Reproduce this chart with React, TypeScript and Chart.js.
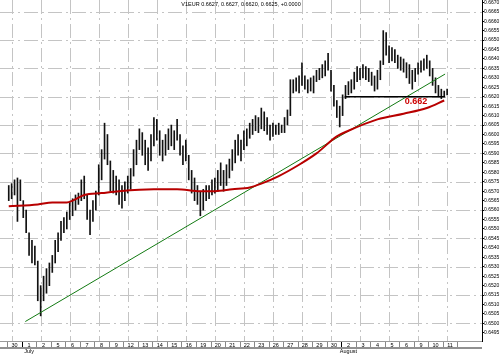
import React, { useEffect, useRef } from "react";
import { Chart, registerables } from "chart.js";

Chart.register(...registerables);

const TITLE = "V1EUR 0.6627, 0.6627, 0.6620, 0.6625, +0.0000";

const DAY_LABELS = [
  "30", "1", "2", "5", "6", "7", "8", "9", "12", "13", "14", "15", "16", "19", "20", "21",
  "22", "23", "26", "27", "28", "29", "30", "2", "3", "4", "5", "6", "9", "10", "11",
];
const MONTH_LABELS: Record<number, string> = { 1: "July", 23: "August" };
const BARS_PER_DAY = 5;

const BAR_HIGHS = [
  0.6573, 0.6574, 0.6576, 0.6577, 0.6576, 0.6565, 0.6560, 0.6548, 0.6544, 0.6541,
  0.6533, 0.6520, 0.6525, 0.6529, 0.6532, 0.6536, 0.6544, 0.6548, 0.6554, 0.6556,
  0.6559, 0.6564, 0.6566, 0.6568, 0.6569, 0.6576, 0.6578, 0.6568, 0.6560, 0.6565,
  0.6570, 0.6584, 0.6592, 0.6606, 0.6600, 0.6586, 0.6581, 0.6578, 0.6576, 0.6573,
  0.6575, 0.6578, 0.6582, 0.6592, 0.6597, 0.6603, 0.6601, 0.6597, 0.6593, 0.6600,
  0.6609, 0.6608, 0.6602, 0.6597, 0.6600, 0.6603, 0.6605, 0.6602, 0.6608, 0.6600,
  0.6594, 0.6597, 0.6589, 0.6581, 0.6577, 0.6573, 0.6570, 0.6571, 0.6573, 0.6573,
  0.6576, 0.6577, 0.6581, 0.6585, 0.6581, 0.6584, 0.6587, 0.6592, 0.6597, 0.6600,
  0.6597, 0.6602, 0.6603, 0.6606, 0.6608, 0.6610, 0.6609, 0.6614, 0.6612, 0.6609,
  0.6605, 0.6606, 0.6605, 0.6606, 0.6605, 0.6609, 0.6613, 0.6629, 0.6629, 0.6630,
  0.6631, 0.6638, 0.6631, 0.6629, 0.6630, 0.6631, 0.6634, 0.6635, 0.6637, 0.6639,
  0.6643, 0.6634, 0.6626, 0.6618, 0.6615, 0.6621, 0.6626, 0.6628, 0.6629, 0.6633,
  0.6636, 0.6635, 0.6637, 0.6636, 0.6635, 0.6633, 0.6631, 0.6634, 0.6639, 0.6655,
  0.6654, 0.6647, 0.6646, 0.6645, 0.6642, 0.6641, 0.6640, 0.6638, 0.6637, 0.6634,
  0.6635, 0.6638, 0.6639, 0.6640, 0.6642, 0.6639, 0.6635, 0.6630, 0.6626, 0.6624,
  0.6623, 0.6624,
];

const BAR_LOWS = [
  0.6565, 0.6566, 0.6568, 0.6554, 0.6565, 0.6556, 0.6548, 0.6536, 0.6532, 0.6531,
  0.6512, 0.6504, 0.6512, 0.6516, 0.6520, 0.6527, 0.6532, 0.6538, 0.6544, 0.6548,
  0.6550, 0.6555, 0.6557, 0.6560, 0.6563, 0.6565, 0.6566, 0.6555, 0.6547, 0.6554,
  0.6560, 0.6568, 0.6576, 0.6587, 0.6584, 0.6570, 0.6569, 0.6568, 0.6563, 0.6561,
  0.6565, 0.6569, 0.6571, 0.6578, 0.6584, 0.6592, 0.6589, 0.6584, 0.6581, 0.6586,
  0.6594, 0.6597, 0.6589, 0.6586, 0.6589, 0.6592, 0.6594, 0.6592, 0.6597, 0.6589,
  0.6584, 0.6586, 0.6576, 0.6569, 0.6565, 0.6563, 0.6557, 0.6560, 0.6565, 0.6566,
  0.6568, 0.6569, 0.6570, 0.6573, 0.6570, 0.6573, 0.6577, 0.6581, 0.6585, 0.6589,
  0.6586, 0.6592, 0.6594, 0.6598, 0.6600, 0.6602, 0.6601, 0.6603, 0.6602, 0.6600,
  0.6597, 0.6599, 0.6600, 0.6600, 0.6601, 0.6601, 0.6605, 0.6610, 0.6622, 0.6623,
  0.6622, 0.6626, 0.6624, 0.6622, 0.6623, 0.6622, 0.6628, 0.6629, 0.6630, 0.6631,
  0.6634, 0.6623, 0.6615, 0.6609, 0.6604, 0.6610, 0.6619, 0.6621, 0.6622, 0.6624,
  0.6628, 0.6629, 0.6630, 0.6629, 0.6628, 0.6626, 0.6623, 0.6624, 0.6629, 0.6637,
  0.6642, 0.6638, 0.6639, 0.6638, 0.6635, 0.6634, 0.6633, 0.6630, 0.6627, 0.6624,
  0.6628, 0.6632, 0.6633, 0.6634, 0.6635, 0.6631, 0.6626, 0.6622, 0.6620, 0.6619,
  0.6620, 0.6621,
];

// moving average (red) read at selected bar positions
const MA_BARS = [0, 10, 15, 20, 22, 26, 32, 38, 50, 58, 66, 71, 77, 83, 87, 93, 100, 106, 113, 117, 127, 136, 144, 150];
const MA_VALUES = [
  0.6562, 0.6563, 0.6564, 0.6564, 0.6565, 0.6568, 0.6569, 0.6570, 0.6571, 0.6571, 0.6570, 0.6570,
  0.6571, 0.6572, 0.6574, 0.6578, 0.6584, 0.6590, 0.6599, 0.6602, 0.6608, 0.6611, 0.6614, 0.6618,
];

// trend line (green)
const TREND_BARS = [5.7, 150.3];
const TREND_VALUES = [0.6501, 0.6632];

// horizontal support (black)
const SUPPORT_BARS = [115.7, 150.3];
const SUPPORT_VALUE = 0.662;

const NOTE_TEXT = "0.662";
const NOTE_BAR = 140.3;
const NOTE_VALUE = 0.66176;

const Y_MIN = 0.64907;
const Y_MAX = 0.66712;
const Y_STEP = 0.0005;
const Y_GRID_REF = 0.6665;
const X_MIN = -0.333;
const X_MAX = 160.333;
const V_GRID_START = 1;
const V_GRID_EVERY = 10;

const FONT = "'Liberation Sans', Arial, sans-serif";

const decorPlugin = {
  id: "decor",
  beforeDatasetsDraw(chart: any) {
    const { ctx, chartArea, scales } = chart;
    const xs = scales.x;
    const ys = scales.y;
    ctx.save();
    ctx.strokeStyle = "#c4c4c4";
    ctx.lineWidth = 1;
    ctx.setLineDash([14, 4, 2, 4]);
    for (let k = 0; k <= 40; k += 3) {
      const v = Y_GRID_REF - k * Y_STEP;
      if (v < Y_MIN) break;
      const y = Math.round(ys.getPixelForValue(v)) + 0.5;
      ctx.beginPath();
      ctx.moveTo(chartArea.left, y);
      ctx.lineTo(chartArea.right, y);
      ctx.stroke();
    }
    for (let b = V_GRID_START; b < X_MAX; b += V_GRID_EVERY) {
      const x = Math.round(xs.getPixelForValue(b)) + 0.5;
      ctx.beginPath();
      ctx.moveTo(x, chartArea.top);
      ctx.lineTo(x, chartArea.bottom);
      ctx.stroke();
    }
    ctx.restore();
  },
  afterDraw(chart: any) {
    const { ctx, chartArea, scales } = chart;
    const xs = scales.x;
    const ys = scales.y;
    ctx.save();
    ctx.fillStyle = "#000";
    ctx.font = `5.5px ${FONT}`;
    ctx.textAlign = "center";
    ctx.textBaseline = "middle";
    ctx.fillText(TITLE, (chartArea.left + chartArea.right) / 2, chartArea.top + 4.5);
    ctx.fillStyle = "#cc0000";
    ctx.font = `bold 9px ${FONT}`;
    ctx.fillText(NOTE_TEXT, xs.getPixelForValue(NOTE_BAR), ys.getPixelForValue(NOTE_VALUE));
    const b = chartArea.bottom;
    ctx.strokeStyle = "#9a9a9a";
    ctx.lineWidth = 1;
    ctx.beginPath();
    ctx.moveTo(chartArea.left, b + 0.5);
    ctx.lineTo(chartArea.right, b + 0.5);
    ctx.stroke();
    for (let k = 0; k <= DAY_LABELS.length; k++) {
      const x = Math.round(xs.getPixelForValue(k * BARS_PER_DAY - 0.5)) + 0.5;
      ctx.strokeStyle = MONTH_LABELS[k] ? "#000" : "#888";
      ctx.beginPath();
      ctx.moveTo(x, b + 1);
      ctx.lineTo(x, b + 6);
      ctx.stroke();
    }
    ctx.strokeStyle = "#222";
    ctx.beginPath();
    ctx.moveTo(chartArea.left, b + 7);
    ctx.lineTo(chartArea.right, b + 7);
    ctx.stroke();
    ctx.restore();
  },
};

export default function App() {
  const ref = useRef<HTMLCanvasElement | null>(null);

  useEffect(() => {
    document.body.style.margin = "0";
    const canvas = ref.current;
    if (!canvas) return;

    const bars = BAR_HIGHS.map((h, i) => ({ x: i, y: [BAR_LOWS[i], h] }));
    const ma = MA_BARS.map((x, i) => ({ x, y: MA_VALUES[i] }));
    const trend = TREND_BARS.map((x, i) => ({ x, y: TREND_VALUES[i] }));
    const support = SUPPORT_BARS.map((x) => ({ x, y: SUPPORT_VALUE }));

    const chart = new Chart(canvas, {
      data: {
        datasets: [
          {
            type: "line",
            data: support as any,
            borderColor: "#000",
            borderWidth: 1.5,
            pointRadius: 0,
            order: 0,
          },
          {
            type: "line",
            data: ma as any,
            borderColor: "#b80000",
            borderWidth: 2,
            pointRadius: 0,
            cubicInterpolationMode: "monotone",
            order: 1,
          },
          {
            type: "line",
            data: trend as any,
            borderColor: "#127a12",
            borderWidth: 1,
            pointRadius: 0,
            order: 2,
          },
          {
            type: "bar",
            data: bars as any,
            backgroundColor: "#111",
            borderWidth: 0,
            barThickness: 1,
            order: 3,
          },
        ],
      },
      options: {
        responsive: false,
        animation: false,
        events: [],
        layout: { padding: 0 },
        plugins: {
          legend: { display: false },
          tooltip: { enabled: false },
          title: { display: false },
        },
        scales: {
          x: {
            type: "linear",
            min: X_MIN,
            max: X_MAX,
            position: "bottom",
            afterBuildTicks: (s: any) => {
              s.ticks = DAY_LABELS.map((_, k) => ({ value: k * BARS_PER_DAY + 2 }));
            },
            afterFit: (s: any) => {
              s.height = 13;
              s.paddingLeft = 0;
              s.paddingRight = 0;
            },
            ticks: {
              autoSkip: false,
              maxRotation: 0,
              minRotation: 0,
              padding: 1,
              color: "#000",
              font: { size: 5.5, family: FONT },
              callback: (_v: any, i: number) =>
                MONTH_LABELS[i] ? [DAY_LABELS[i], MONTH_LABELS[i]] : DAY_LABELS[i],
            },
            grid: { display: false, drawTicks: false },
            border: { display: false },
          },
          y: {
            type: "linear",
            position: "right",
            min: Y_MIN,
            max: Y_MAX,
            afterFit: (s: any) => {
              s.width = 18;
              s.paddingTop = 0;
              s.paddingBottom = 0;
            },
            ticks: {
              stepSize: Y_STEP,
              includeBounds: false,
              autoSkip: false,
              padding: 0,
              color: "#000",
              font: { size: 5, family: FONT },
              callback: (v: any) => Number(v).toFixed(4),
            },
            grid: {
              drawOnChartArea: false,
              drawTicks: true,
              tickLength: 2,
              tickColor: "#000",
            },
            border: { display: true, color: "#000", dash: [1, 1] },
          },
        },
      } as any,
      plugins: [decorPlugin],
    });

    return () => chart.destroy();
  }, []);

  return <canvas ref={ref} width={500} height={354} style={{ display: "block" }} />;
}
